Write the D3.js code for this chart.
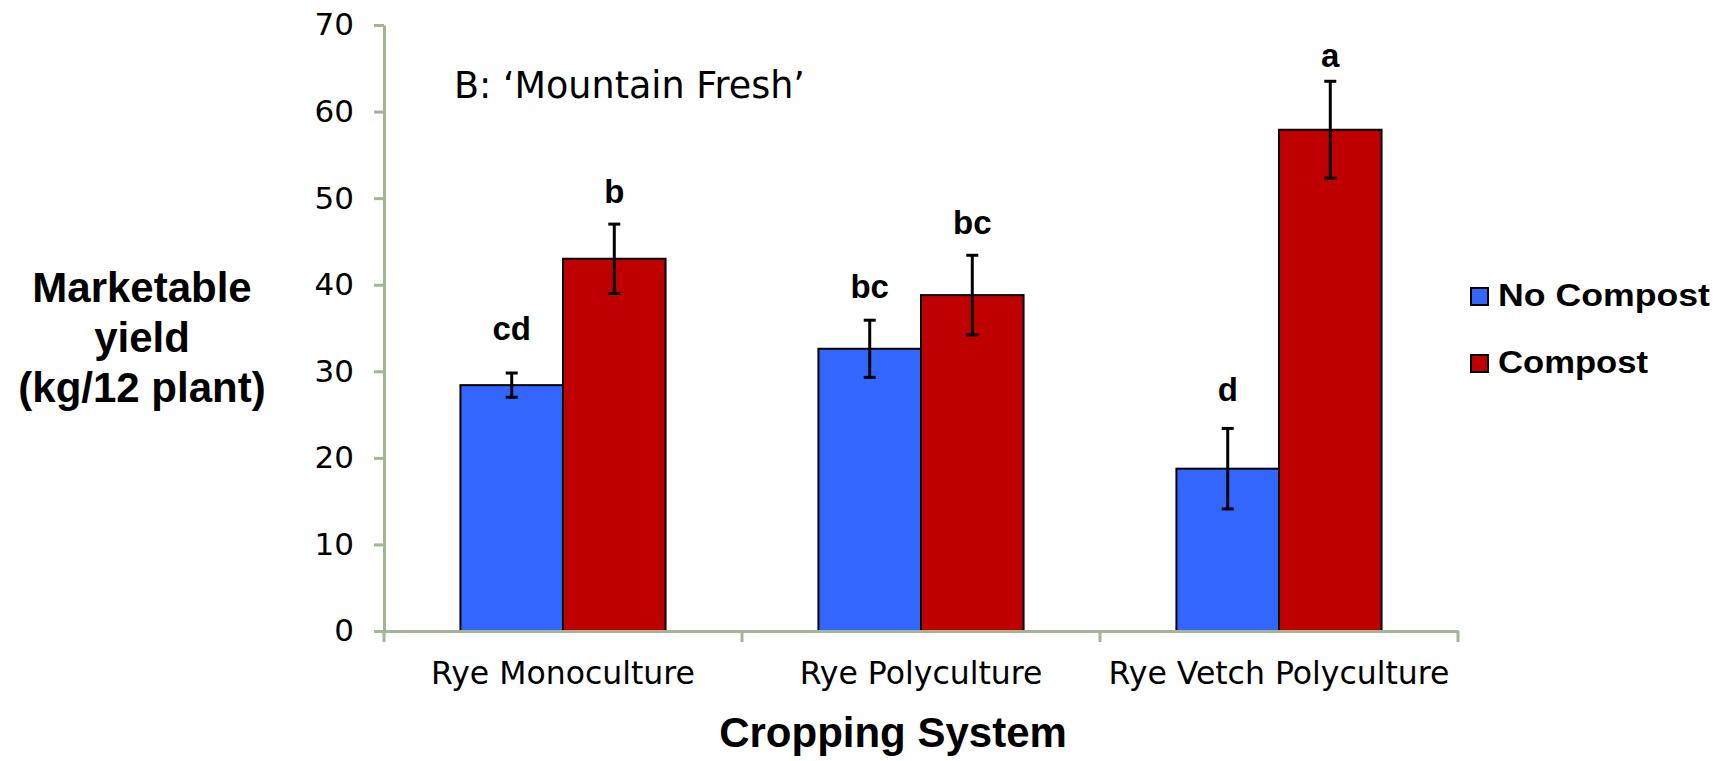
<!DOCTYPE html>
<html>
<head>
<meta charset="utf-8">
<script src="https://cdn.jsdelivr.net/npm/d3@7"></script>
<style>
  body { margin: 0; background: #fff; }
  .tick-label { font-family: "DejaVu Sans", Verdana, sans-serif; }
  .bold { font-family: "Liberation Sans", Arial, sans-serif; font-weight: bold; }
</style>
</head>
<body>
<div id="chart"></div>
<script>
// data (kg / 12 plant)
const categories = ["Rye Monoculture", "Rye Polyculture", "Rye Vetch Polyculture"];
const seriesNames = ["No Compost", "Compost"];
const noCompost = [28.4, 32.6, 18.75];
const compost = [43.0, 38.8, 57.9];
const noCompostErr = [1.4, 3.3, 4.65];
const compostErr = [4.0, 4.6, 5.6];
// significance letters and the height (in kg) where each one sits
const noCompostLetters = ["cd", "bc", "d"];
const compostLetters = ["b", "bc", "a"];
const noCompostLetterAt = [33.6, 38.45, 26.6];
const compostLetterAt = [49.45, 45.85, 65.1];
const yTicks = [0, 10, 20, 30, 40, 50, 60, 70];

const colors = { "No Compost": "#3366ff", "Compost": "#bf0000" };
const axisColor = "#a5b593";

const width = 1721, height = 761;
const margin = { left: 384, right: 263, top: 25, bottom: 130 };

const svg = d3.select("#chart")
    .append("svg")
    .attr("width", width)
    .attr("height", height);

const x = d3.scaleBand()
    .domain(categories)
    .range([margin.left, width - margin.right])
    .paddingInner(0.427)
    .paddingOuter(0.2135);

const xSub = d3.scaleBand()
    .domain(seriesNames)
    .range([0, x.bandwidth()]);

const y = d3.scaleLinear()
    .domain([0, 70])
    .range([height - margin.bottom, margin.top]);

// build rows from the arrays
const rows = [];
categories.forEach((c, i) => {
    rows.push({ cat: c, s: "No Compost", v: noCompost[i], e: noCompostErr[i], letter: noCompostLetters[i], at: noCompostLetterAt[i] });
    rows.push({ cat: c, s: "Compost", v: compost[i], e: compostErr[i], letter: compostLetters[i], at: compostLetterAt[i] });
});

// bars
svg.append("g")
    .selectAll("rect")
    .data(rows)
    .join("rect")
    .attr("x", d => x(d.cat) + xSub(d.s))
    .attr("y", d => y(d.v))
    .attr("width", xSub.bandwidth())
    .attr("height", d => y(0) - y(d.v))
    .attr("fill", d => colors[d.s])
    .attr("stroke", "#000")
    .attr("stroke-width", 2);

// error bars
const cx = d => x(d.cat) + xSub(d.s) + xSub.bandwidth() / 2;
const errG = svg.append("g").attr("stroke", "#000").attr("stroke-width", 3);
errG.selectAll("line.v")
    .data(rows)
    .join("line")
    .attr("class", "v")
    .attr("x1", cx).attr("x2", cx)
    .attr("y1", d => y(d.v + d.e))
    .attr("y2", d => y(d.v - d.e));
errG.selectAll("line.top")
    .data(rows)
    .join("line")
    .attr("class", "top")
    .attr("x1", d => cx(d) - 6).attr("x2", d => cx(d) + 6)
    .attr("y1", d => y(d.v + d.e)).attr("y2", d => y(d.v + d.e));
errG.selectAll("line.bot")
    .data(rows)
    .join("line")
    .attr("class", "bot")
    .attr("x1", d => cx(d) - 6).attr("x2", d => cx(d) + 6)
    .attr("y1", d => y(d.v - d.e)).attr("y2", d => y(d.v - d.e));

// significance letters
svg.append("g")
    .selectAll("text")
    .data(rows)
    .join("text")
    .attr("class", "bold")
    .attr("x", cx)
    .attr("y", d => y(d.at))
    .attr("text-anchor", "middle")
    .attr("font-size", 33)
    .text(d => d.letter);

// y axis
const yAxis = svg.append("g")
    .attr("transform", `translate(${margin.left},0)`)
    .call(d3.axisLeft(y).tickValues(yTicks).tickSize(10).tickSizeOuter(0).tickPadding(20));
yAxis.select(".domain").attr("stroke", axisColor).attr("stroke-width", 3);
yAxis.selectAll(".tick line").attr("stroke", axisColor).attr("stroke-width", 3);
yAxis.selectAll(".tick text")
    .attr("class", "tick-label")
    .attr("font-size", 31)
    .attr("fill", "#000");

// x axis
const xAxis = svg.append("g")
    .attr("transform", `translate(0,${y(0)})`)
    .call(d3.axisBottom(x).tickSize(0).tickSizeOuter(0));
xAxis.select(".domain").attr("stroke", axisColor).attr("stroke-width", 3);
xAxis.selectAll(".tick text")
    .attr("class", "tick-label")
    .attr("font-size", 31.5)
    .attr("fill", "#000")
    .attr("y", 53)
    .attr("dy", 0);

// category boundary ticks
const bounds = categories.map(c => x(c) - x.step() * x.paddingInner() / 2);
bounds.push(width - margin.right);
xAxis.selectAll("line.bound")
    .data(bounds)
    .join("line")
    .attr("class", "bound")
    .attr("x1", d => d).attr("x2", d => d)
    .attr("y1", 0).attr("y2", 11)
    .attr("stroke", axisColor)
    .attr("stroke-width", 3);

// titles
svg.append("text")
    .attr("class", "tick-label")
    .attr("x", 454)
    .attr("y", 98)
    .attr("font-size", 36.5)
    .text("B:  \u2018Mountain Fresh\u2019");

const yTitle = svg.append("text")
    .attr("class", "bold")
    .attr("text-anchor", "middle")
    .attr("font-size", 42);
["Marketable", "yield", "(kg/12 plant)"].forEach((t, i) => {
    yTitle.append("tspan").attr("x", 142).attr("y", 302 + i * 50).text(t);
});

svg.append("text")
    .attr("class", "bold")
    .attr("x", 893)
    .attr("y", 747)
    .attr("text-anchor", "middle")
    .attr("font-size", 42)
    .text("Cropping System");

// legend
const legend = svg.append("g")
    .selectAll("g")
    .data(seriesNames)
    .join("g")
    .attr("transform", (d, i) => `translate(1471,${288 + i * 67})`);
legend.append("rect")
    .attr("width", 17).attr("height", 17)
    .attr("fill", d => colors[d])
    .attr("stroke", "#000")
    .attr("stroke-width", 2);
legend.append("text")
    .attr("class", "bold")
    .attr("x", 27)
    .attr("y", 18)
    .attr("font-size", 31)
    .attr("textLength", d => d === "No Compost" ? 212 : 150)
    .attr("lengthAdjust", "spacingAndGlyphs")
    .text(d => d);
</script>
</body>
</html>
